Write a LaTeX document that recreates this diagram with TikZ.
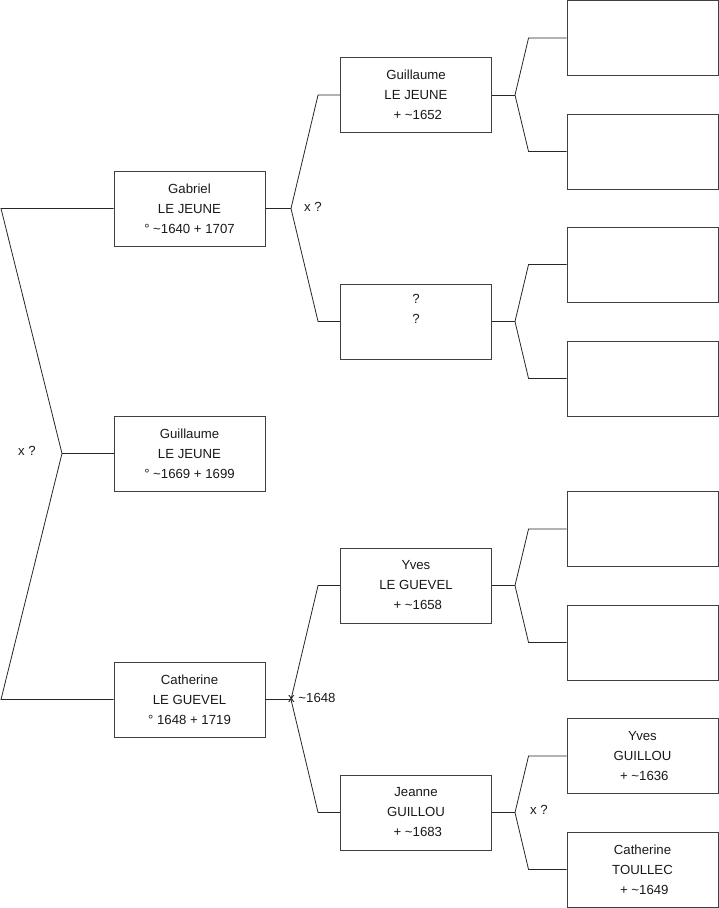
\documentclass[tikz,border=0pt]{standalone}
\usepackage{fontspec}
\setmainfont{Liberation Sans}
\usepackage{tikz}
\usetikzlibrary{positioning}

\newcommand{\ca}{\textasciitilde}

\begin{document}
\begin{tikzpicture}[
  x=1pt, y=-1pt,
  person/.style={draw=black!75, line width=0.9pt, align=center, inner sep=0pt,
    font=\fontsize{13.2}{20}\selectfont, text=black!90,
    minimum width=151pt, minimum height=75pt},
  link/.style={draw=black!85, line width=0.8pt},
  union/.style={font=\fontsize{13.2}{15}\selectfont, text=black!90, anchor=west, inner sep=0pt}
]
\useasboundingbox (0,0) rectangle (719,908);

% generation 1
\node[person] (gabriel) at (189.5,208.5) {Gabriel\\LE JEUNE\\° \ca1640 + 1707};
\node[person] (guillaumeB) at (189.5,453.5) {Guillaume\\LE JEUNE\\° \ca1669 + 1699};
\node[person] (catherine) at (189.5,699.5) {Catherine\\LE GUEVEL\\° 1648 + 1719};

% generation 2
\node[person] (guillaumeA) at (416,95) {Guillaume\\LE JEUNE\\\ + \ca1652};
\node[person] (unknown) at (416,321.5) {?\\?\\\strut};
\node[person] (yves) at (416,585.5) {Yves\\LE GUEVEL\\\ + \ca1658};
\node[person] (jeanne) at (416,812.5) {Jeanne\\GUILLOU\\\ + \ca1683};

% generation 3
\node[person] (ff1) at (642.5,38) {};
\node[person] (ff2) at (642.5,151.5) {};
\node[person] (fm1) at (642.5,264.5) {};
\node[person] (fm2) at (642.5,378.5) {};
\node[person] (mf1) at (642.5,529) {};
\node[person] (mf2) at (642.5,642.5) {};
\node[person] (yvesG) at (642.5,756) {Yves\\GUILLOU\\\ + \ca1636};
\node[person] (catherineT) at (642.5,869.5) {Catherine\\TOULLEC\\\ + \ca1649};

% forks
\coordinate (rt) at (1,208.5);
\coordinate (rb) at (1,699.5);
\coordinate (jr) at (62,453.5);
\coordinate (jg) at (291,208.5);
\coordinate (jc) at (291,699.5);
\coordinate (j1) at (515,95);
\coordinate (j2) at (515,321.5);
\coordinate (j3) at (515,585.5);
\coordinate (j4) at (515,812.5);

\draw[link] (gabriel.west) -- (rt) -- (jr) -- (rb) -- (catherine.west);
\draw[link] (guillaumeB) -- (jr);

\draw[link] (gabriel) -- (jg);
\draw[link] (guillaumeA.west) -- ++(-22,0) -- (jg) -- ([xshift=-22pt]unknown.west) -- (unknown.west);
\draw[link] (catherine) -- (jc);
\draw[link] (yves.west) -- ++(-22,0) -- (jc) -- ([xshift=-22pt]jeanne.west) -- (jeanne.west);

\draw[link] (guillaumeA) -- (j1);
\draw[link] (ff1.west) -- ++(-38,0) -- (j1) -- ([xshift=-38pt]ff2.west) -- (ff2.west);
\draw[link] (unknown) -- (j2);
\draw[link] (fm1.west) -- ++(-38,0) -- (j2) -- ([xshift=-38pt]fm2.west) -- (fm2.west);
\draw[link] (yves) -- (j3);
\draw[link] (mf1.west) -- ++(-38,0) -- (j3) -- ([xshift=-38pt]mf2.west) -- (mf2.west);
\draw[link] (jeanne) -- (j4);
\draw[link] (yvesG.west) -- ++(-38,0) -- (j4) -- ([xshift=-38pt]catherineT.west) -- (catherineT.west);

% unions
\node[union] (ur) at (18,451) {x ?};
\node[union] (ug) at (304,207) {x ?};
\node[union] (uc) at (288,698) {x \ca1648};
\node[union] (uj) at (530,810) {x ?};
\end{tikzpicture}
\end{document}
